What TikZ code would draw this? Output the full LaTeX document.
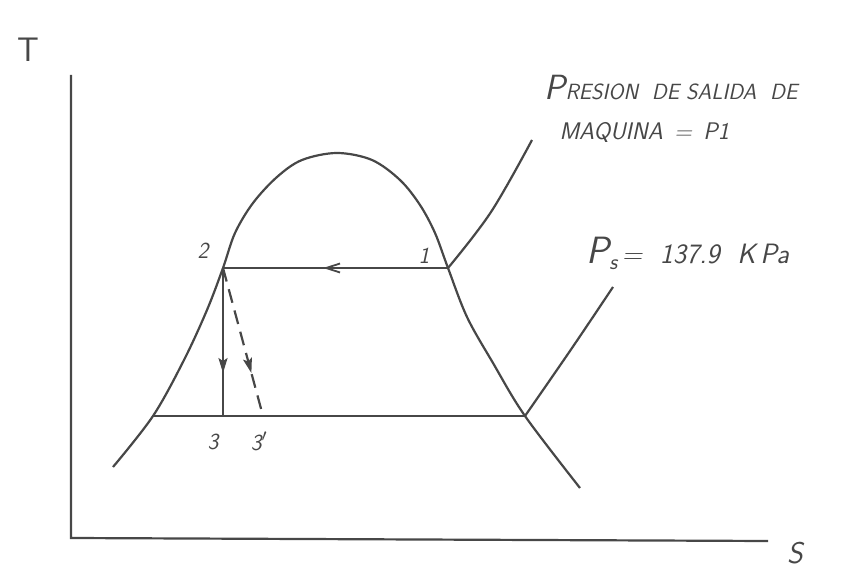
\documentclass[tikz,border=0pt]{standalone}
\usepackage{fontspec}
\usepackage{tikz}
\usetikzlibrary{arrows.meta, decorations.markings}
\definecolor{pencil}{HTML}{474747}

\begin{document}
\begin{tikzpicture}[
  x=1pt, y=-1pt,
  font=\sffamily\itshape,
  every node/.style={text=pencil},
  curve/.style={draw=pencil, line width=2.2pt},
  axis/.style={draw=pencil, line width=2.2pt},
  process/.style={draw=pencil, line width=2.2pt},
  midleft/.style={postaction={decorate}, decoration={markings,
      mark=at position #1 with {\arrow{Straight Barb[length=14pt, width=9pt, line width=1.8pt]}}}},
  middown/.style={postaction={decorate}, decoration={markings,
      mark=at position #1 with {\arrow{Stealth[length=15pt, width=9pt, inset=3pt]}}}},
  statelbl/.style={font=\sffamily\itshape\fontsize{23}{24}\selectfont}
]
\useasboundingbox (0,0) rectangle (857,569);

% --- axes ---
\coordinate (origin) at (71,538);
\coordinate (ytop) at (71,75);
\coordinate (xend) at (768,541);
\draw[axis] (ytop) -- (origin) -- (xend);
\node[font=\sffamily\fontsize{34}{34}\selectfont] (tlbl) at (28,50) {T};
\node[font=\sffamily\itshape\fontsize{30}{30}\selectfont] (slbl) at (795,553) {S};

% --- state points ---
\coordinate (p1) at (448,268);
\coordinate (p2) at (223,268);
\coordinate (p3) at (223,416);
\coordinate (p3b) at (263,416);
\coordinate (lb) at (153,416);
\coordinate (rb) at (525,416);

% --- saturation dome ---
\draw[curve] plot[smooth, tension=0.55] coordinates {
  (113,467) (lb) (184,360) (207,310) (p2) (235,233) (253,203)
  (277,177) (302,160) (337,153) (372,160) (400,180) (420,205) (435,233)
  (p1) (467,317) (493,363) (rb) (580,488)};

% --- isobars ---
\draw[curve] plot[smooth, tension=0.6] coordinates {(p1) (491,212) (532,140)};
\draw[curve] plot[smooth, tension=0.6] coordinates {(rb) (572,348) (613,287)};

% --- processes ---
\draw[process, midleft=0.555] (p1) -- (p2);
\draw[process] (lb) -- (rb);
\draw[process, middown=0.71] (p2) -- (p3);
\draw[process, dash pattern=on 14pt off 8pt, middown=0.71] (p2) -- (p3b);

% --- labels ---
\node[statelbl] (l2) at (203,251) {2};
\node[statelbl] (l1) at (424,256) {1};
\node[statelbl] (l3) at (213,442) {3};
\node[statelbl] (l3b) at (259,441) {3$'$};

\node[anchor=base west, font=\sffamily\itshape\fontsize{22}{24}\selectfont] (p1name) at (541,100)
  {{\fontsize{35}{35}\selectfont P}RESION \ DE SALIDA \ DE};
\node[anchor=base west, font=\sffamily\itshape\fontsize{24}{24}\selectfont] (p1name2) at (556,140)
  {MAQUINA \,= \,P1};
\node[anchor=base west, font=\sffamily\itshape\fontsize{28}{28}\selectfont] (psname) at (583,264)
  {{\fontsize{38}{38}\selectfont P}\raisebox{-6pt}{\fontsize{22}{22}\selectfont s}\,= \ 137.9 \ K\,Pa};
\end{tikzpicture}
\end{document}
